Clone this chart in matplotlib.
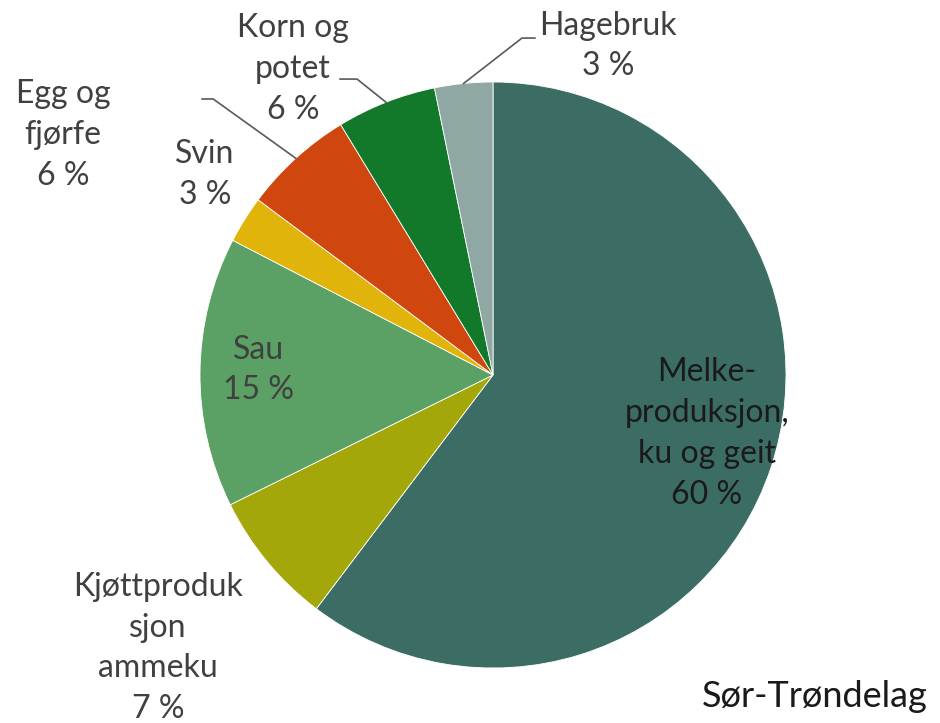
import numpy as np
import matplotlib.pyplot as plt

# === Dati ===
categories = ["Melke-\nproduksjon,\nku og geit", "Kjøttproduk\nsjon\nammeku", "Sau", "Svin",
              "Egg og\nfjørfe", "Korn og\npotet", "Hagebruk"]
shares = [60.3, 7.4, 14.9, 2.6, 6.1, 5.5, 3.2]
colors = ["#3c6d64", "#a3a70a", "#5ba064", "#e1b40c", "#d0460f", "#12792b", "#8fa8a4"]
region = "Sør-Trøndelag"

# posizioni etichette (coordinate dati, raggio torta = 1)
label_pos = [(0.73, -0.20), (-1.144, -0.932), (-0.80, 0.017), (-0.983, 0.683),
             (-1.468, 0.819), (-0.683, 1.044), (0.392, 1.123)]
# linee di richiamo: indice -> (inizio x, inizio y, tratto orizzontale)
leaders = {4: (-0.993, 0.942, 0.038), 5: (-0.522, 1.010, 0.058), 6: (0.143, 1.150, -0.044)}

plt.rcParams['font.family'] = ['Lato', 'DejaVu Sans']

fig = plt.figure(figsize=(9.4, 7.23), dpi=100)
ax = fig.add_axes([0, 0, 1, 1])
wedges, _ = ax.pie(shares, colors=colors, startangle=90, counterclock=False, radius=1,
                   wedgeprops=dict(edgecolor='white', linewidth=0.6))

cum = np.cumsum([0] + shares)
for i, (name, val) in enumerate(zip(categories, shares)):
    x, y = label_pos[i]
    col = '#1a1a1a' if i == 0 else '#404040'
    ax.text(x, y, f"{name}\n{val:.0f} %", ha='center', va='center', fontsize=23,
            color=col, linespacing=1.45)
    if i in leaders:
        mid = 90 - 360 * (cum[i] + cum[i + 1]) / 200
        ex, ey = np.cos(np.radians(mid)), np.sin(np.radians(mid))
        sx, sy, dx = leaders[i]
        ax.plot([sx, sx + dx, ex], [sy, sy, ey], color='#595959', lw=1.2)

ax.text(0.987, 0.036, region, transform=fig.transFigure, ha='right', va='center',
        fontsize=26, color='#1a1a1a')

ax.set_xlim(-493 / 293, 447 / 293)
ax.set_ylim(-348 / 293, 375 / 293)
ax.set_aspect('equal')
ax.set_axis_off()

plt.savefig("out.png", dpi=100)
plt.close()
